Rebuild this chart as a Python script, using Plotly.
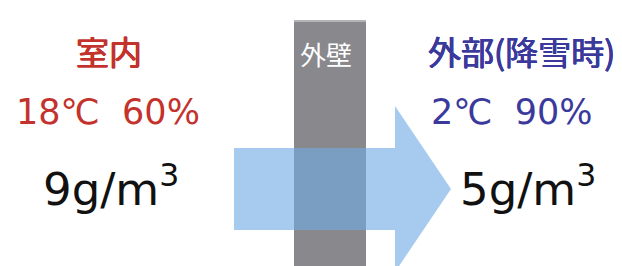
import plotly.graph_objects as go

# ---- data ----
places = ["室内", "外部(降雪時)"]
temperatures_c = [18, 2]
humidity_pct = [60, 90]
abs_humidity_g_m3 = [9, 5]
wall_label = "外壁"

# ---- styles / layout ----
W, H = 622, 266
place_colors = ["#c3322c", "#3b3a9c"]
title_x = [101, 513]
title_size = [33, 33]
cond_x = [100, 504]
val_x = [103, 520]
CJK = "Noto Sans CJK JP"
LAT = "DejaVu Sans, Noto Sans CJK JP"


def thick(c, d=0.45):
    return f"{d}px 0 0 {c}, -{d}px 0 0 {c}, 0 {d}px 0 {c}, 0 -{d}px 0 {c}"


fig = go.Figure()
fig.add_trace(go.Scatter(x=[0, W], y=[0, H], mode="markers",
                         marker=dict(opacity=0), hoverinfo="skip", showlegend=False))

# wall
fig.add_shape(type="rect", x0=286, x1=358, y0=12, y1=H + 2,
              fillcolor="#88888d", line=dict(width=0), layer="below")
fig.add_shape(type="line", x0=286, x1=358, y0=13, y1=13,
              line=dict(color="#b4b4b8", width=2), layer="below")

# arrow (semi-transparent so the wall shows through)
ax0, ax1, axt = 226, 387, 443
sy0, sy1 = 140, 222
hy0, hy1, hc = 98, 264, 181
path = (f"M {ax0},{sy0} L {ax1},{sy0} L {ax1},{hy0} L {axt},{hc} "
        f"L {ax1},{hy1} L {ax1},{sy1} L {ax0},{sy1} Z")
fig.add_shape(type="path", path=path, fillcolor="#6fabe3", opacity=0.62,
              line=dict(width=0), layer="above")

ann = []
ann.append(dict(x=318, y=45, text=wall_label, showarrow=False, yanchor="middle",
                font=dict(family=CJK, size=26, color="white")))
for i in range(2):
    ann.append(dict(x=title_x[i], y=43, text=places[i], showarrow=False, yanchor="middle",
                    font=dict(family=CJK, size=title_size[i], color=place_colors[i],
                              shadow=thick(place_colors[i]))))
    ann.append(dict(x=cond_x[i], y=104,
                    text=f"{temperatures_c[i]}℃  {humidity_pct[i]}%", showarrow=False,
                    yanchor="middle",
                    font=dict(family=LAT, size=35, color=place_colors[i])))
    ann.append(dict(x=val_x[i], y=178,
                    text=f"{abs_humidity_g_m3[i]}g/m<sup>3</sup>", showarrow=False,
                    yanchor="middle",
                    font=dict(family=LAT, size=45, color="#111111")))
fig.update_layout(annotations=ann)

fig.update_layout(
    width=W, height=H, margin=dict(l=0, r=0, t=0, b=0),
    paper_bgcolor="white", plot_bgcolor="white",
    xaxis=dict(range=[0, W], visible=False, fixedrange=True),
    yaxis=dict(range=[H, 0], visible=False, fixedrange=True),
    showlegend=False,
)
fig.write_html("out.html")
